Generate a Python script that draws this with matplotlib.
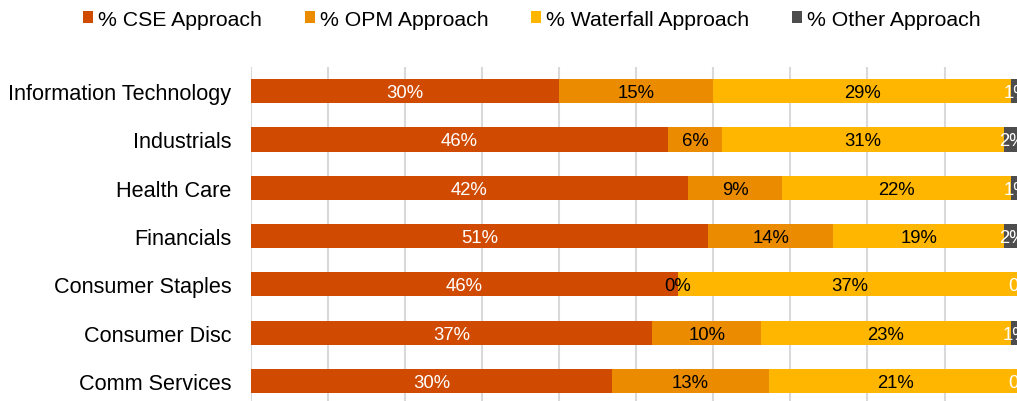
import matplotlib.pyplot as plt
import numpy as np
from matplotlib.patches import Patch

plt.rcParams["font.family"] = ["Liberation Sans", "DejaVu Sans"]

sectors = [
    "Information Technology",
    "Industrials",
    "Health Care",
    "Financials",
    "Consumer Staples",
    "Consumer Disc",
    "Comm Services",
]
cse = [30, 46, 42, 51, 46, 37, 30]
opm = [15, 6, 9, 14, 0, 10, 13]
waterfall = [29, 31, 22, 19, 37, 23, 21]
other = [1, 2, 1, 2, 0, 1, 0]

series = ["% CSE Approach", "% OPM Approach", "% Waterfall Approach", "% Other Approach"]
colors = ["#D04A02", "#EB8C00", "#FFB600", "#4D4D4D"]
text_colors = ["white", "black", "black", "white"]

values = np.array([cse, opm, waterfall, other], dtype=float)
shares = values / values.sum(axis=0)  # 100% stacked

fig = plt.figure(figsize=(10.17, 4.02), dpi=100)
ax = fig.add_axes([0.2465, -0.0100, 0.7581, 0.8408])

y = np.arange(len(sectors))
left = np.zeros(len(sectors))
for vals, share, color, tcolor in zip(values, shares, colors, text_colors):
    ax.barh(y, share, left=left, height=0.5, color=color, zorder=2)
    for yi, v, l, s in zip(y, vals, left, share):
        ax.text(l + s / 2, yi + 0.03, f"{v:.0f}%", ha="center", va="center",
                color=tcolor, fontsize=13.3, zorder=3)
    left += share

ax.set_xlim(0, 1)
ax.set_ylim(len(sectors) - 0.5, -0.5)
ax.set_xticks(np.arange(0, 1.01, 0.1))
ax.set_xticklabels([])
ax.set_yticks(y)
ax.set_yticklabels(sectors, fontsize=15.6)
ax.tick_params(length=0, pad=14)
ax.grid(axis="x", color="#D9D9D9", linewidth=1.5, zorder=0)
ax.set_axisbelow(True)
for side in ax.spines.values():
    side.set_visible(False)

handles = [Patch(facecolor=c) for c in colors]
fig.legend(handles, series, loc="center", bbox_to_anchor=(0.523, 0.95), ncol=4,
           frameon=False, fontsize=15.3, handlelength=0.47, handleheight=0.47,
           handletextpad=0.25, columnspacing=2.0)

fig.savefig("out.png", dpi=100)
